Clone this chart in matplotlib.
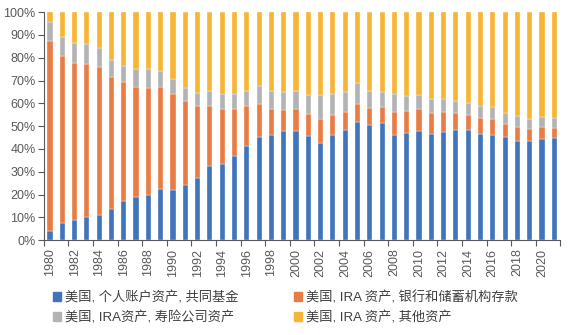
import numpy as np
import matplotlib.pyplot as plt
from matplotlib.patches import Patch

plt.rcParams["font.family"] = ["Liberation Sans", "Noto Sans CJK SC", "DejaVu Sans"]

# IRA asset mix, share of total (%)
years = list(range(1980, 2022))
mutual_funds = [3.9, 7.7, 8.8, 10.1, 11.0, 13.5, 17.1, 19.0, 19.9, 22.4,
                22.2, 24.4, 27.4, 32.6, 33.3, 37.1, 41.2, 45.3, 46.1, 47.8,
                47.8, 45.8, 42.8, 46.1, 48.2, 51.9, 50.6, 51.2, 45.9, 47.1,
                48.0, 46.6, 47.5, 48.5, 48.1, 46.6, 46.1, 45.3, 43.6, 43.7,
                44.2, 44.6]
bank_deposits = [83.5, 73.1, 68.7, 67.2, 65.0, 58.1, 52.3, 48.3, 46.6, 44.6,
                 41.8, 36.4, 31.6, 26.3, 24.3, 20.5, 17.6, 14.5, 11.5, 9.2,
                 9.5, 9.6, 10.4, 8.9, 8.1, 7.9, 7.4, 7.1, 10.4, 9.6,
                 9.3, 9.2, 8.6, 7.3, 6.9, 7.1, 7.1, 5.7, 6.1, 5.1,
                 5.5, 4.7]
life_insurance = [8.4, 8.2, 9.0, 8.7, 8.4, 7.2, 6.8, 7.6, 8.4, 7.0,
                  6.5, 6.0, 5.7, 6.6, 6.6, 6.3, 6.4, 8.0, 7.6, 7.8,
                  7.9, 8.1, 10.4, 9.3, 8.5, 8.9, 7.3, 6.5, 8.0, 6.3,
                  6.2, 6.2, 5.6, 5.3, 5.2, 5.1, 5.0, 4.6, 4.8, 4.4,
                  4.1, 4.2]
other_assets = [100 - a - b - c for a, b, c in zip(mutual_funds, bank_deposits, life_insurance)]

labels = ["美国, 个人账户资产, 共同基金",
          "美国, IRA 资产, 银行和储蓄机构存款",
          "美国, IRA资产, 寿险公司资产",
          "美国, IRA 资产, 其他资产"]
colors = ["#4074BC", "#E97C45", "#B3B3B5", "#F7B536"]

fig = plt.figure(figsize=(5.69, 3.35), dpi=100)
ax = fig.add_axes([0.077, 0.283, 0.908, 0.681])

x = np.arange(len(years))
bottom = np.zeros(len(years))
for vals, col in zip([mutual_funds, bank_deposits, life_insurance, other_assets], colors):
    ax.bar(x, vals, bottom=bottom, width=0.42, color=col, edgecolor="white", linewidth=0.25)
    bottom += np.array(vals)

ax.set_xlim(-0.5, len(years) - 0.5)
ax.set_ylim(0, 100)

ax.set_yticks(np.arange(0, 101, 10))
ax.set_yticklabels([f"{v}%" for v in range(0, 101, 10)])

# labels on every other year, tick marks between bars
ax.set_xticks(x[::2])
ax.set_xticklabels([str(y) for y in years[::2]], rotation=90)
ax.set_xticks(np.arange(-0.5, len(years), 2), minor=True)
ax.tick_params(axis="x", which="major", length=0, pad=6)
ax.tick_params(axis="x", which="minor", length=4, width=0.8, color="#595959")
ax.tick_params(axis="y", length=4, width=0.8, color="#595959", pad=2)
ax.tick_params(labelsize=9, labelcolor="#595959")

for side in ["top", "right"]:
    ax.spines[side].set_visible(False)
for side in ["left", "bottom"]:
    ax.spines[side].set_color("#595959")
    ax.spines[side].set_linewidth(0.8)

handles = [Patch(color=c) for c in colors]
order = [0, 2, 1, 3]
fig.legend([handles[i] for i in order], [labels[i] for i in order],
           ncol=2, loc="upper left", bbox_to_anchor=(0.093, 0.132),
           frameon=False, fontsize=9.5, labelcolor="#404040",
           handlelength=0.65, handleheight=0.65, handletextpad=0.25,
           columnspacing=4.2, labelspacing=0.55, borderaxespad=0, borderpad=0)

fig.savefig("out.png", dpi=100)
